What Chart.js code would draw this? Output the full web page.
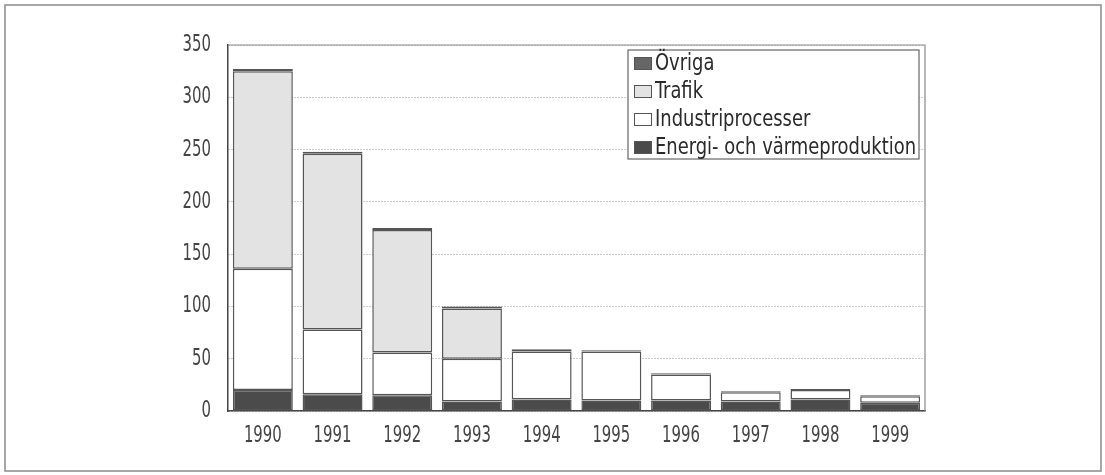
<!DOCTYPE html>
<html>
<head>
<meta charset="utf-8">
<script src="https://cdn.jsdelivr.net/npm/chart.js@4/dist/chart.umd.min.js"></script>
<style>
  html, body { margin: 0; padding: 0; background: #fff; }
  #wrap { width: 1105px; height: 475px; }
</style>
</head>
<body>
<div id="wrap"><canvas id="chart" width="1105" height="475"></canvas></div>
<script>
// data (kton per year, stacked)
const years = ["1990", "1991", "1992", "1993", "1994", "1995", "1996", "1997", "1998", "1999"];
const energi = [20, 16, 15, 9, 11, 10, 10, 9, 11, 8];
const industri = [116, 62, 41, 41, 46, 47, 25, 9, 9, 6];
const trafik = [189, 168, 117, 48, 0, 0, 0, 0, 0, 0];
const ovriga = [2, 2, 2, 2, 2, 1, 1, 1, 1, 1];
const yTicks = [0, 50, 100, 150, 200, 250, 300, 350];

const FONT = "'DejaVu Sans Condensed', 'Liberation Sans Narrow', sans-serif";

// the original uses a narrow typeface: squeeze text horizontally
function narrowText(ctx, text, x, y, align, sx) {
  ctx.save();
  ctx.translate(x, y);
  ctx.scale(sx, 1);
  ctx.textAlign = align;
  ctx.fillText(text, 0, 0);
  ctx.restore();
}

const decor = {
  id: "decor",
  beforeDraw(chart) {
    const ctx = chart.ctx;
    ctx.save();
    ctx.fillStyle = "#fff";
    ctx.fillRect(0, 0, chart.width, chart.height);
    ctx.strokeStyle = "#8a8a8a";
    ctx.lineWidth = 1.5;
    ctx.strokeRect(5, 5, chart.width - 9, chart.height - 9);
    ctx.restore();
  },
  afterDraw(chart) {
    const ctx = chart.ctx;
    const a = chart.chartArea;
    ctx.save();
    ctx.strokeStyle = "#8a8a8a";
    ctx.lineWidth = 1.2;
    ctx.beginPath();
    ctx.moveTo(a.left, a.top);
    ctx.lineTo(a.right, a.top);
    ctx.lineTo(a.right, a.bottom);
    ctx.stroke();

    // tick labels
    ctx.fillStyle = "#444";
    ctx.font = "23px " + FONT;
    ctx.textBaseline = "middle";
    const ys = chart.scales.y, xs = chart.scales.x;
    ys.ticks.forEach(t => narrowText(ctx, String(t.value), a.left - 17, ys.getPixelForValue(t.value), "right", 0.72));
    xs.ticks.forEach((t, i) => narrowText(ctx, chart.data.labels[i], xs.getPixelForTick(i), a.bottom + 25, "center", 0.72));

    // legend, top series first
    const x0 = 628, y0 = 50, w = 291, h = 109;
    ctx.fillStyle = "#fff";
    ctx.fillRect(x0, y0, w, h);
    ctx.strokeStyle = "#666";
    ctx.lineWidth = 1.2;
    ctx.strokeRect(x0, y0, w, h);
    const ds = chart.data.datasets.slice().reverse();
    ctx.font = "23px " + FONT;
    const widest = Math.max(...ds.map(d => ctx.measureText(d.label).width));
    const sx = Math.min(1, 261 / widest);
    ds.forEach((d, i) => {
      const cy = 63 + i * 28;
      ctx.fillStyle = d.backgroundColor;
      ctx.fillRect(634, cy - 6, 18, 13);
      ctx.strokeStyle = "#555";
      ctx.lineWidth = 1;
      ctx.strokeRect(634.5, cy - 5.5, 17, 12);
      ctx.fillStyle = "#2a2a2a";
      narrowText(ctx, d.label, 655, cy + 1, "left", sx);
    });
    ctx.restore();
  }
};

const barStyle = {
  borderColor: "#555",
  borderWidth: 1.5,
  borderSkipped: false,
  barPercentage: 0.86,
  categoryPercentage: 1.0
};

new Chart(document.getElementById("chart"), {
  type: "bar",
  data: {
    labels: years,
    datasets: [
      { label: "Energi- och värmeproduktion", data: energi, backgroundColor: "#4b4b4b", ...barStyle },
      { label: "Industriprocesser", data: industri, backgroundColor: "#ffffff", ...barStyle },
      { label: "Trafik", data: trafik, backgroundColor: "#e3e3e3", ...barStyle },
      { label: "Övriga", data: ovriga, backgroundColor: "#666666", ...barStyle }
    ]
  },
  options: {
    responsive: false,
    animation: false,
    layout: { padding: { left: 10, right: 180, top: 45, bottom: 10 } },
    plugins: {
      legend: { display: false },
      tooltip: { enabled: false }
    },
    scales: {
      x: {
        stacked: true,
        grid: { display: false },
        border: { display: true, color: "#444", width: 1.5 },
        ticks: { color: "rgba(0,0,0,0)", font: { family: FONT, size: 21 }, padding: 12 },
        afterFit(s) { s.height = 54; }
      },
      y: {
        stacked: true,
        min: 0,
        max: 350,
        afterBuildTicks(s) { s.ticks = yTicks.map(v => ({ value: v })); },
        grid: { color: "#9a9a9a", lineWidth: 1, drawTicks: false },
        border: { display: true, color: "#444", width: 1.5, dash: [1, 2] },
        ticks: { color: "rgba(0,0,0,0)", font: { family: FONT, size: 21 }, padding: 17 },
        afterFit(s) { s.width = 218; }
      }
    }
  },
  plugins: [decor]
});
</script>
</body>
</html>
